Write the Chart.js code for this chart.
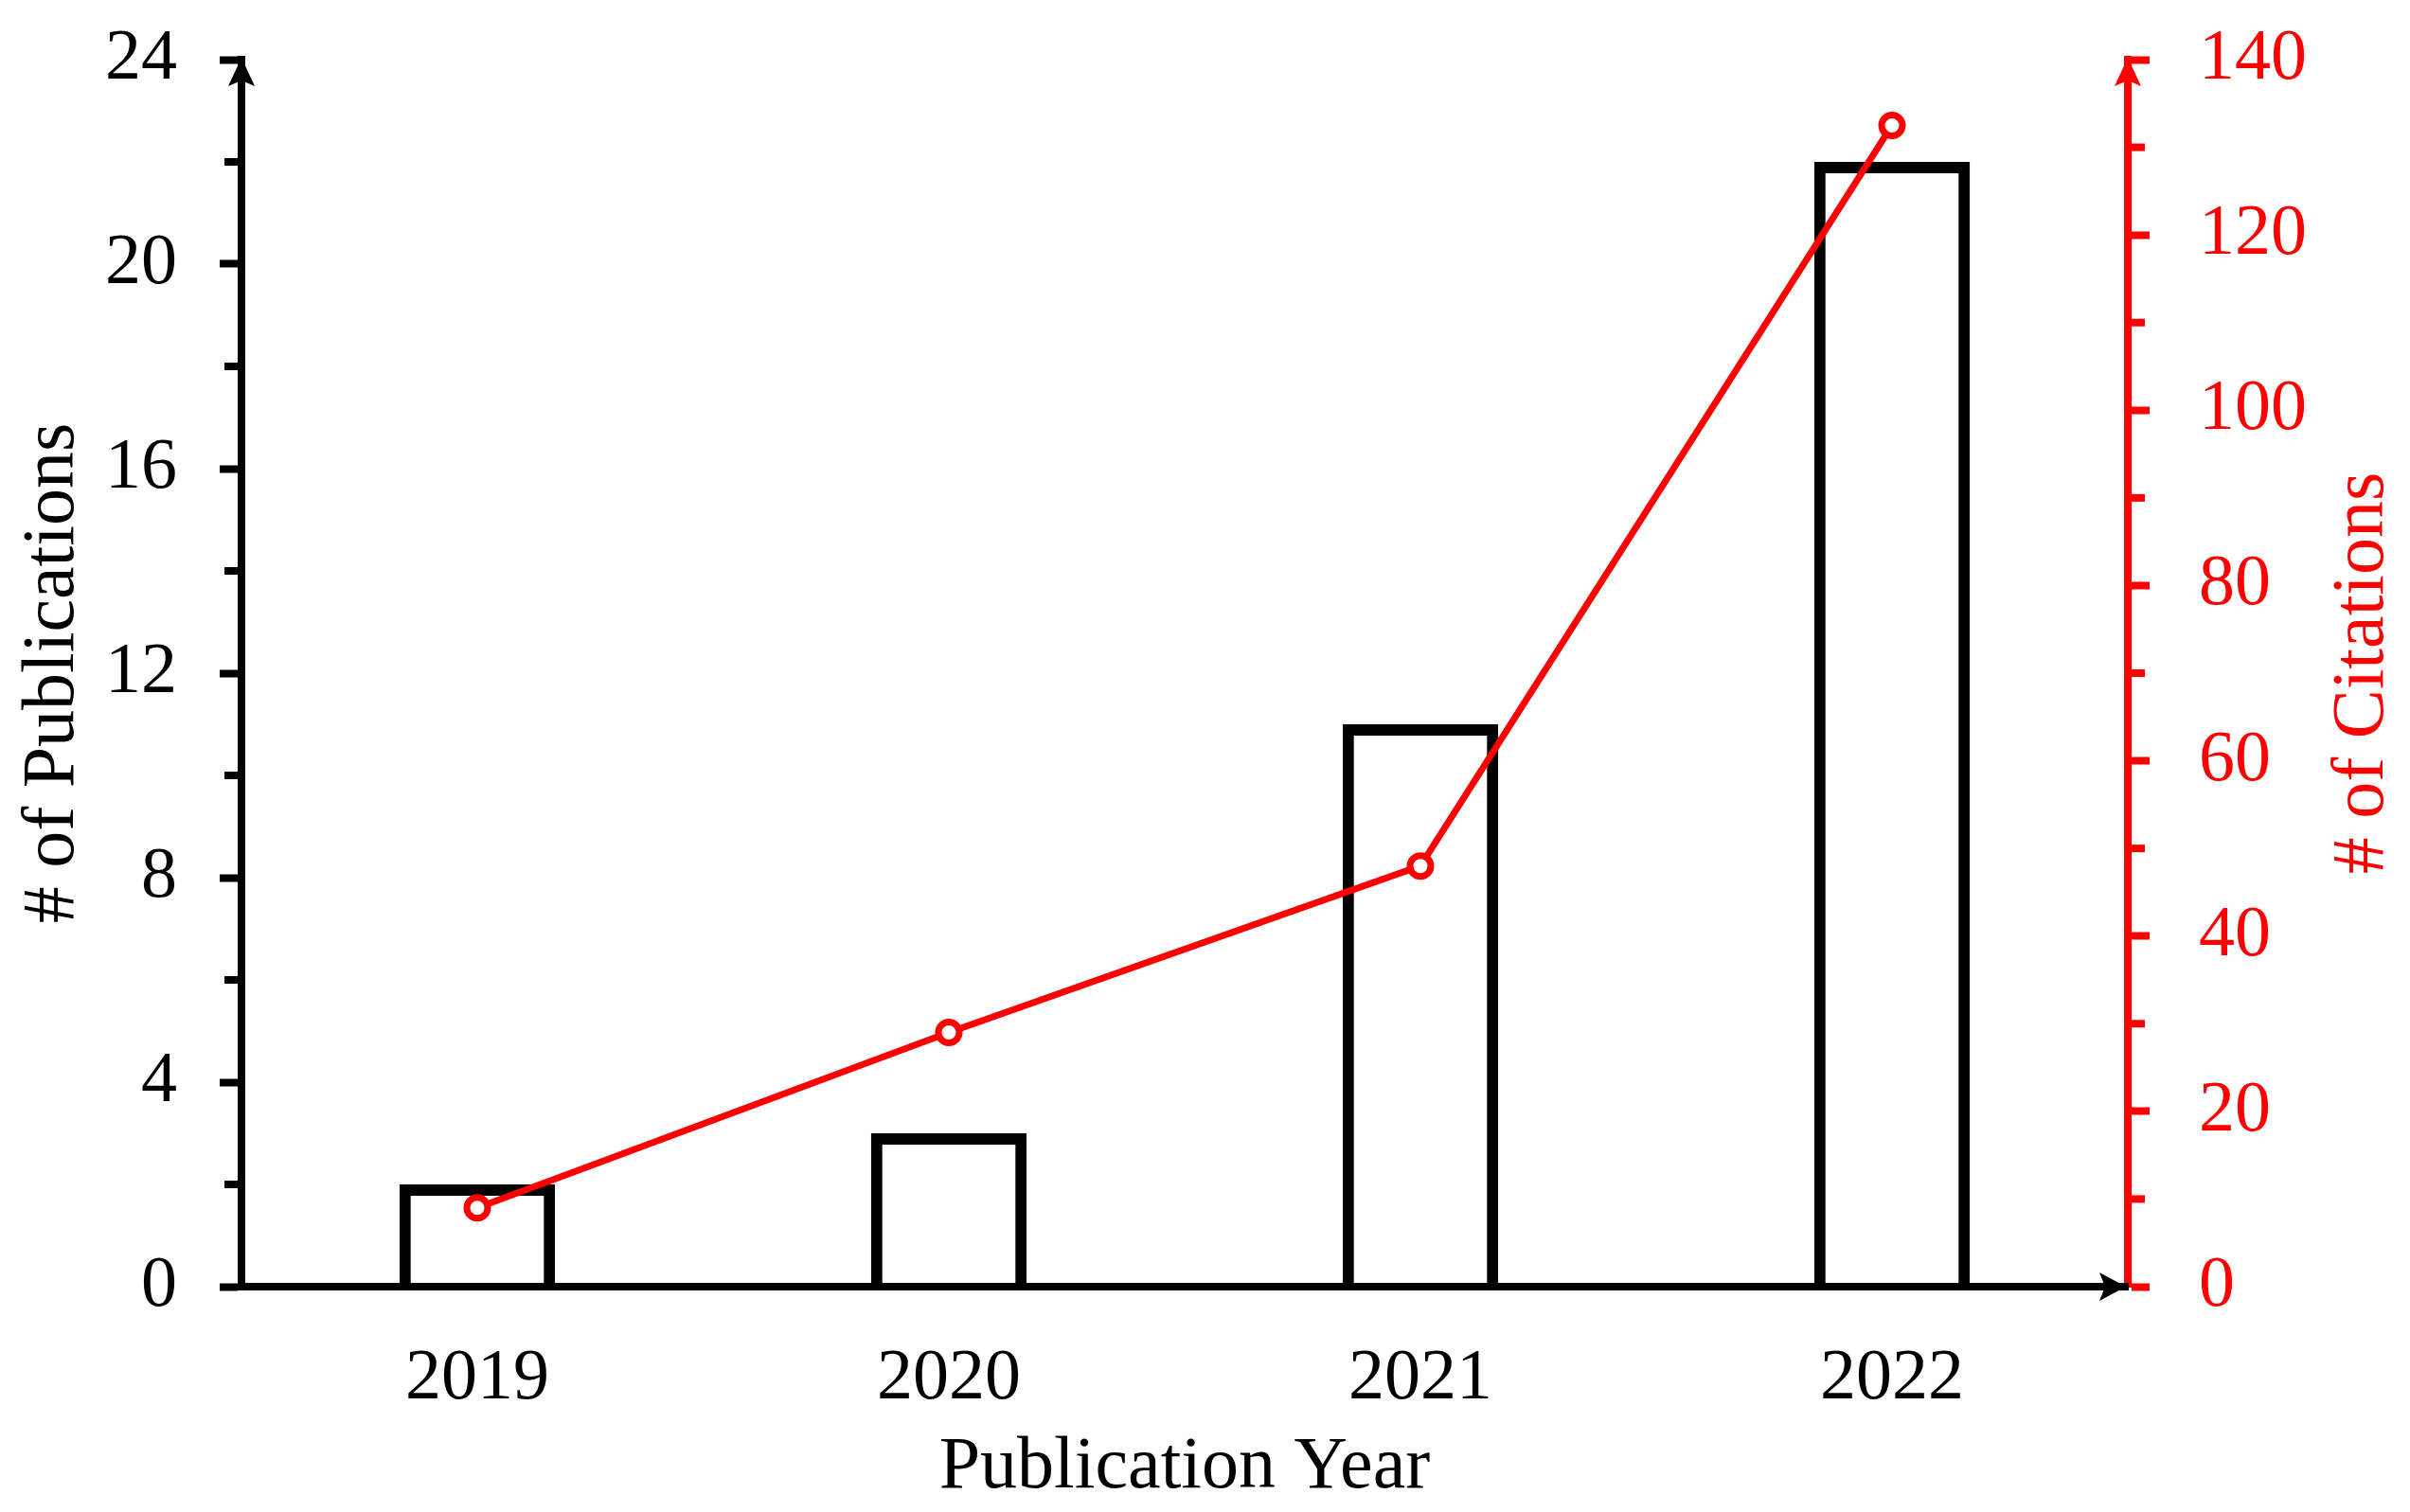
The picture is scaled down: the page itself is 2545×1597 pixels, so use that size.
<!DOCTYPE html>
<html>
<head>
    <title>Publications and Citations</title>
    <script src="https://cdn.jsdelivr.net/npm/chart.js"></script>
    <style>
        body {
            margin: 0;
            background: #ffffff;
        }
        canvas {
            display: block;
        }
    </style>
</head>
<body>
    <canvas id="pub-chart" width="2545" height="1597" style="width:2545px;height:1597px;"></canvas>

    <script>
        // data
        const years = ['2019', '2020', '2021', '2022'];
        const publications = [2, 3, 11, 22];
        const citations = [9, 29, 48, 132.5];
        const pubTicks = [0, 4, 8, 12, 16, 20, 24];
        const citeTicks = [0, 20, 40, 60, 80, 100, 120, 140];

        const FONT = 'Liberation Serif, Times New Roman, serif';
        const RED = '#ff0000';

        // minor ticks, arrow heads and the right title (reads bottom-to-top)
        const axisExtras = {
            id: 'axisExtras',
            afterDraw(chart) {
                const ctx = chart.ctx;
                const area = chart.chartArea;
                const y = chart.scales.y;
                const y1 = chart.scales.y1;

                ctx.save();
                ctx.lineWidth = 8;
                ctx.strokeStyle = '#000';
                for (let v = 2; v < 24; v += 4) {
                    const py = y.getPixelForValue(v);
                    ctx.beginPath();
                    ctx.moveTo(area.left - 18, py);
                    ctx.lineTo(area.left, py);
                    ctx.stroke();
                }
                ctx.strokeStyle = RED;
                for (let v = 10; v < 140; v += 20) {
                    const py = y1.getPixelForValue(v);
                    ctx.beginPath();
                    ctx.moveTo(area.right, py);
                    ctx.lineTo(area.right + 18, py);
                    ctx.stroke();
                }

                function arrowUp(x, top, color) {
                    ctx.fillStyle = color;
                    ctx.beginPath();
                    ctx.moveTo(x, top - 2);
                    ctx.lineTo(x + 14, top + 28);
                    ctx.lineTo(x, top + 22);
                    ctx.lineTo(x - 14, top + 28);
                    ctx.closePath();
                    ctx.fill();
                }
                arrowUp(area.left, area.top, '#000');
                arrowUp(area.right, area.top, RED);

                ctx.fillStyle = '#000';
                ctx.beginPath();
                ctx.moveTo(area.right - 2, area.bottom);
                ctx.lineTo(area.right - 30, area.bottom + 15);
                ctx.lineTo(area.right - 24, area.bottom);
                ctx.lineTo(area.right - 30, area.bottom - 15);
                ctx.closePath();
                ctx.fill();

                ctx.translate(2496, (area.top + area.bottom) / 2);
                ctx.rotate(-Math.PI / 2);
                ctx.fillStyle = RED;
                ctx.font = '78px ' + FONT;
                ctx.textAlign = 'center';
                ctx.textBaseline = 'middle';
                ctx.fillText('# of Citations', 0, 0);
                ctx.restore();
            }
        };

        const ctx = document.getElementById('pub-chart').getContext('2d');
        const pubChart = new Chart(ctx, {
            type: 'bar',
            data: {
                labels: years,
                datasets: [{
                    type: 'line',
                    label: '# of Citations',
                    data: citations,
                    yAxisID: 'y1',
                    borderColor: RED,
                    borderWidth: 7,
                    pointRadius: 11,
                    pointBorderWidth: 7,
                    pointBackgroundColor: '#ffffff',
                    pointBorderColor: RED,
                    tension: 0,
                    order: 0
                }, {
                    type: 'bar',
                    label: '# of Publications',
                    data: publications,
                    yAxisID: 'y',
                    backgroundColor: '#ffffff',
                    borderColor: '#000000',
                    borderWidth: 12,
                    barPercentage: 0.33,
                    categoryPercentage: 1,
                    order: 1
                }]
            },
            options: {
                responsive: false,
                animation: false,
                layout: {
                    padding: { top: 63, left: 0, right: 0, bottom: 0 }
                },
                plugins: {
                    legend: { display: false },
                    tooltip: { enabled: false }
                },
                scales: {
                    x: {
                        grid: { display: false, drawTicks: false },
                        border: { display: true, color: '#000', width: 8, z: 1 },
                        ticks: {
                            color: '#000',
                            padding: 52,
                            font: { family: FONT, size: 76 }
                        },
                        title: {
                            display: true,
                            text: 'Publication Year',
                            color: '#000',
                            font: { family: FONT, size: 78 },
                            padding: { top: 0, bottom: 0 }
                        },
                        afterFit(scale) { scale.height = 238; }
                    },
                    y: {
                        position: 'left',
                        min: 0,
                        max: 24,
                        afterBuildTicks(scale) {
                            scale.ticks = pubTicks.map(v => ({ value: v }));
                        },
                        grid: {
                            drawOnChartArea: false,
                            color: '#000',
                            tickLength: 23,
                            tickWidth: 8
                        },
                        border: { color: '#000', width: 8 },
                        ticks: {
                            color: '#000',
                            padding: 45,
                            crossAlign: 'near',
                            font: { family: FONT, size: 76 }
                        },
                        title: {
                            display: true,
                            text: '# of Publications',
                            color: '#000',
                            font: { family: FONT, size: 78 },
                            padding: { top: 10, bottom: 0 }
                        },
                        afterFit(scale) {
                            scale.width = 255;
                            scale.paddingTop = 0;
                            scale.paddingBottom = 0;
                        }
                    },
                    y1: {
                        position: 'right',
                        min: 0,
                        max: 140,
                        afterBuildTicks(scale) {
                            scale.ticks = citeTicks.map(v => ({ value: v }));
                        },
                        grid: {
                            drawOnChartArea: false,
                            color: RED,
                            tickLength: 23,
                            tickWidth: 8
                        },
                        border: { color: RED, width: 8 },
                        ticks: {
                            color: RED,
                            padding: 52,
                            crossAlign: 'near',
                            font: { family: FONT, size: 76 }
                        },
                        afterFit(scale) {
                            scale.width = 298;
                            scale.paddingTop = 0;
                            scale.paddingBottom = 0;
                        }
                    }
                }
            },
            plugins: [axisExtras]
        });
    </script>
</body>
</html>
